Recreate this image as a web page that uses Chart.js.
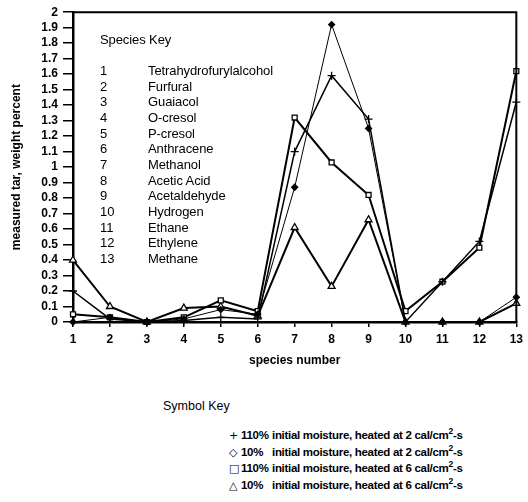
<!DOCTYPE html>
<html>
<head>
<meta charset="utf-8">
<script src="https://cdn.jsdelivr.net/npm/chart.js@4.4.1/dist/chart.umd.min.js"></script>
<style>
  html, body { margin: 0; padding: 0; background: #fff; }
  body { width: 528px; height: 502px; position: relative; overflow: hidden; font-family: "Liberation Sans", Arial, sans-serif; color: #000; }
  #wrap { position: absolute; left: 0; top: 0; width: 528px; height: 380px; }
  .key { position: absolute; font-size: 13px; line-height: 15.67px; letter-spacing: -0.1px; }
  .key .num { position: absolute; left: 0; }
  .key .name { position: absolute; left: 48px; white-space: nowrap; }
  #speciesKey { left: 100px; top: 32px; }
  #symbolKey { position: absolute; left: 163px; top: 399px; font-size: 12.5px; }
  #symbolKey .row { position: absolute; left: 66px; white-space: nowrap; font-weight: bold; font-size: 11.5px; letter-spacing: -0.3px; }
  #symbolKey .sym { display: inline-block; width: 12px; font-weight: normal; font-family: "DejaVu Sans", sans-serif; font-size: 11px; }
  #symbolKey .pct { display: inline-block; width: 31px; }
  sup { font-size: 8.5px; line-height: 0; vertical-align: 5px; }
</style>
</head>
<body>
<div id="wrap"><canvas id="tarChart"></canvas></div>
<div class="key" id="speciesKey"></div>
<div id="symbolKey">
  <div style="position:absolute;left:0;top:0;white-space:nowrap;">Symbol Key</div>
  <div class="row" style="top:30px"><span class="sym">+</span><span class="pct">110%</span>initial moisture, heated at 2 cal/cm<sup>2</sup>-s</div>
  <div class="row" style="top:47px"><span class="sym">◇</span><span class="pct">10%</span>initial moisture, heated at 2 cal/cm<sup>2</sup>-s</div>
  <div class="row" style="top:63px"><span class="sym">□</span><span class="pct">110%</span>initial moisture, heated at 6 cal/cm<sup>2</sup>-s</div>
  <div class="row" style="top:80px"><span class="sym">△</span><span class="pct">10%</span>initial moisture, heated at 6 cal/cm<sup>2</sup>-s</div>
</div>
<script>
const speciesNumbers = ["1", "2", "3", "4", "5", "6", "7", "8", "9", "10", "11", "12", "13"];
const speciesNames = ["Tetrahydrofurylalcohol", "Furfural", "Guaiacol", "O-cresol", "P-cresol", "Anthracene",
  "Methanol", "Acetic Acid", "Acetaldehyde", "Hydrogen", "Ethane", "Ethylene", "Methane"];

// measured tar, weight percent, per species
const wet2cal = [0.20, 0.02, 0, 0.01, 0.03, 0.02, 1.10, 1.59, 1.31, 0, 0.26, 0.52, 1.42];
const dry2cal = [0, 0.03, 0, 0.02, 0.08, 0.05, 0.87, 1.92, 1.25, 0, 0, 0, 0.16];
const wet6cal = [0.05, 0.03, 0, 0.03, 0.14, 0.07, 1.32, 1.03, 0.82, 0.07, 0.26, 0.48, 1.62];
const dry6cal = [0.40, 0.10, 0, 0.09, 0.10, 0.04, 0.61, 0.23, 0.66, 0, 0, 0, 0.12];

// species key inside the plot
const key = document.getElementById("speciesKey");
let html = '<div style="position:absolute;top:0;left:0;white-space:nowrap;">Species Key</div>';
speciesNumbers.forEach((n, i) => {
  const top = 31 + i * 15.67;
  html += `<div class="num" style="top:${top}px">${n}</div><div class="name" style="top:${top}px">${speciesNames[i]}</div>`;
});
key.innerHTML = html;

// top and right edges of the plot box
const frame = {
  id: "frame",
  afterDraw(chart) {
    const { ctx, chartArea: a } = chart;
    ctx.save();
    ctx.strokeStyle = "#000";
    ctx.lineWidth = 2;
    ctx.beginPath();
    ctx.moveTo(a.left, a.top);
    ctx.lineTo(a.right, a.top);
    ctx.lineTo(a.right, a.bottom);
    ctx.stroke();
    ctx.restore();
  },
};

const tickFont = { family: "Liberation Sans", size: 12, weight: "bold" };

function series(data, style, radius, fill, width) {
  return {
    data: data,
    borderColor: "#000",
    borderWidth: width,
    pointStyle: style,
    pointRadius: radius,
    pointBackgroundColor: fill,
    pointBorderColor: "#000",
    pointBorderWidth: 1.3,
    tension: 0,
    clip: false,
  };
}

new Chart(document.getElementById("tarChart"), {
  type: "line",
  data: {
    labels: speciesNumbers,
    datasets: [
      series(wet2cal, "cross", 4, "#000", 1.5),
      series(dry2cal, "rectRot", 3, "#000", 1),
      series(wet6cal, "rect", 3.5, "#fff", 2),
      series(dry6cal, "triangle", 4, "#fff", 2),
    ],
  },
  options: {
    responsive: true,
    maintainAspectRatio: false,
    animation: false,
    layout: { padding: { top: 11, right: 6, left: 4, bottom: 0 } },
    plugins: { legend: { display: false }, tooltip: { enabled: false } },
    scales: {
      x: {
        grid: { drawOnChartArea: false, color: "#000", lineWidth: 1.5, tickLength: 5 },
        border: { color: "#000", width: 2.5 },
        ticks: { color: "#000", font: tickFont, padding: 5, maxRotation: 0 },
        title: { display: true, text: "species number", color: "#000", font: tickFont, padding: { top: 4, bottom: 12 } },
        afterFit(scale) { scale.height = 58; },
      },
      y: {
        min: 0,
        max: 2,
        grid: { drawOnChartArea: false, color: "#000", lineWidth: 1.5, tickLength: 10 },
        border: { color: "#000", width: 2.5 },
        ticks: {
          stepSize: 0.1,
          autoSkip: false,
          color: "#000",
          font: { family: "Liberation Sans", size: 12, weight: "bold" },
          padding: 5,
          callback: (v) => {
            const r = Math.round(v * 10) / 10;
            return Number.isInteger(r) ? String(r) : r.toFixed(1);
          },
        },
        title: { display: true, text: "measured tar, weight percent", color: "#000", font: tickFont, padding: { top: 5, bottom: 0 } },
        afterFit(scale) { scale.width = 69; },
      },
    },
  },
  plugins: [frame],
});
</script>
</body>
</html>
